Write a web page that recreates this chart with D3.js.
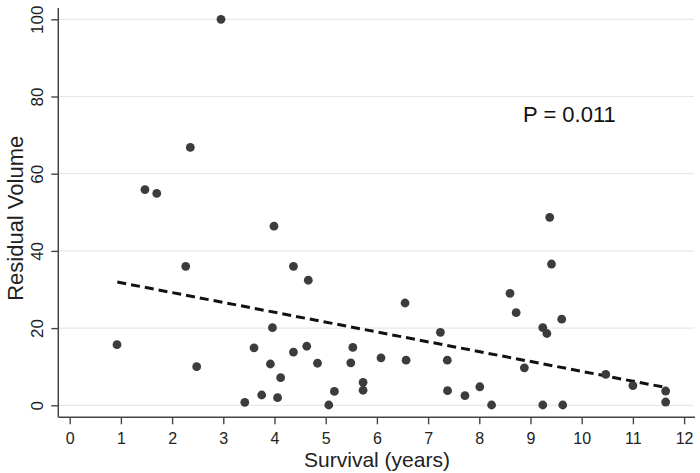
<!DOCTYPE html>
<html>
<head>
<meta charset="utf-8">
<script src="https://cdn.jsdelivr.net/npm/d3@7"></script>
<style>
  html, body { margin: 0; padding: 0; background: #fff; }
  svg { display: block; font-family: "Liberation Sans", Arial, sans-serif; }
</style>
</head>
<body>
<svg id="chart" width="700" height="473"></svg>
<script>
// Data
const survival = [2.955, 2.356, 1.47, 1.70, 3.99, 9.375, 2.266, 4.37, 4.66, 3.96, 0.924, 3.60, 4.63, 4.37, 2.48, 3.92, 4.84, 4.12, 3.75, 4.06, 3.42, 5.17, 5.06, 5.53, 5.49, 6.08, 6.55, 6.57, 5.73, 5.73, 7.24, 7.375, 7.38, 7.72, 8.01, 8.24, 8.60, 8.72, 9.41, 9.61, 9.24, 9.32, 8.88, 9.24, 9.63, 10.47, 11.0, 11.64, 11.64];
const residual = [100, 66.8, 55.9, 54.9, 46.4, 48.7, 36.0, 36.0, 32.4, 20.1, 15.7, 14.9, 15.3, 13.8, 10.0, 10.7, 10.9, 7.15, 2.67, 1.97, 0.77, 3.6, 0.08, 15.0, 11.0, 12.3, 26.5, 11.7, 5.95, 3.9, 18.9, 11.7, 3.8, 2.5, 4.8, 0.08, 29.0, 24.0, 36.6, 22.3, 20.1, 18.6, 9.7, 0.08, 0.08, 8.0, 5.1, 3.7, 0.85];
const xTicks = [0,1,2,3,4,5,6,7,8,9,10,11,12];
const yTicks = [0,20,40,60,80,100];
const fitX = [0.93, 11.6];
const fitIntercept = 34.3;
const fitSlope = -2.55;
const pLabel = "P = 0.011";
const xTitle = "Survival (years)";
const yTitle = "Residual Volume";

const svg = d3.select("#chart");
const x = d3.scaleLinear().domain([0, 12]).range([69.7, 684.1]);
const y = d3.scaleLinear().domain([0, 100]).range([405.3, 19.3]);
const axisX0 = 58.3, axisX1 = 695, axisYTop = 8, axisYBottom = 417.3;
const font = "'Liberation Sans', Arial, sans-serif";

// gridlines
svg.append("g").selectAll("line").data(yTicks).join("line")
  .attr("x1", axisX0).attr("x2", 694)
  .attr("y1", d => y(d)).attr("y2", d => y(d))
  .attr("stroke", "#e8e8e8").attr("stroke-width", 1.2);

// x axis
const gx = svg.append("g").attr("transform", `translate(0,${axisYBottom})`)
  .call(d3.axisBottom(x).tickValues(xTicks).tickSize(7).tickPadding(8.3).tickFormat(d3.format("d")));
gx.select(".domain").remove();
gx.selectAll(".tick line").attr("stroke", "#444").attr("stroke-width", 1.4);
gx.selectAll(".tick text").attr("fill", "#222").style("font-size", "16px").style("font-family", font);
svg.append("line").attr("x1", axisX0).attr("x2", axisX1)
  .attr("y1", axisYBottom).attr("y2", axisYBottom)
  .attr("stroke", "#444").attr("stroke-width", 1.5);

// y axis
const gy = svg.append("g").attr("transform", `translate(${axisX0},0)`)
  .call(d3.axisLeft(y).tickValues(yTicks).tickSize(7).tickFormat(d3.format("d")));
gy.select(".domain").remove();
gy.selectAll(".tick line").attr("stroke", "#444").attr("stroke-width", 1.4);
gy.selectAll(".tick text")
  .attr("x", null).attr("dy", null)
  .attr("text-anchor", "middle")
  .attr("transform", "translate(-15,0) rotate(-90)")
  .attr("fill", "#222").style("font-size", "17px").style("font-family", font);
svg.append("line").attr("x1", axisX0).attr("x2", axisX0)
  .attr("y1", axisYTop).attr("y2", axisYBottom)
  .attr("stroke", "#444").attr("stroke-width", 1.5);

// fitted line
svg.append("line")
  .attr("x1", x(fitX[0])).attr("y1", y(fitIntercept + fitSlope * fitX[0]))
  .attr("x2", x(fitX[1])).attr("y2", y(fitIntercept + fitSlope * fitX[1]))
  .attr("stroke", "#111").attr("stroke-width", 3).attr("stroke-dasharray", "9,5");

// points
svg.append("g").selectAll("circle").data(survival.map((s, i) => [s, residual[i]])).join("circle")
  .attr("cx", d => x(d[0])).attr("cy", d => y(d[1])).attr("r", 4.4)
  .attr("fill", "#3c3c3c");

// p label
svg.append("text").attr("x", 523).attr("y", 122).attr("fill", "#111")
  .style("font-size", "22px").text(pLabel);

// axis titles
svg.append("text").attr("x", 377).attr("y", 467)
  .attr("text-anchor", "middle").attr("fill", "#222").style("font-size", "21px").text(xTitle);
svg.append("text").attr("transform", `translate(23,${(y(0) + y(100)) / 2 + 6}) rotate(-90)`)
  .attr("text-anchor", "middle").attr("fill", "#222").style("font-size", "22px").text(yTitle);
</script>
</body>
</html>
